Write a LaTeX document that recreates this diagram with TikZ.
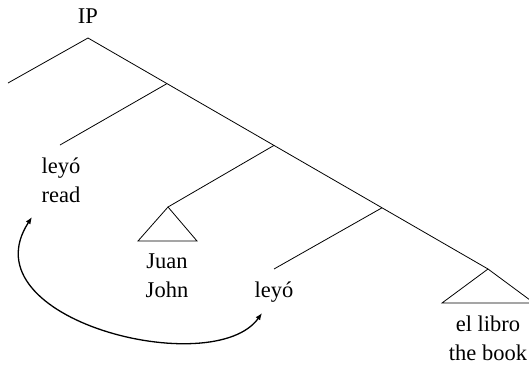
\documentclass[tikz,border=0pt]{standalone}
\usepackage{fontspec}
\setmainfont{Liberation Serif}
\usetikzlibrary{arrows.meta}
\begin{document}
\begin{tikzpicture}[x=1pt,y=-1pt,
  branch/.style={line width=0.8pt},
  word/.style={inner sep=0pt, anchor=base, align=center,
    font=\fontsize{22.5}{28.5}\selectfont},
  move/.style={line width=1.3pt,
    {Latex[length=7pt,width=5.5pt]}-{Latex[length=7pt,width=5.5pt]}}]
\useasboundingbox (0,0) rectangle (529,364);

% branching points of the tree
\coordinate (ip) at (88,38);
\coordinate (n1) at (167,83.6);
\coordinate (n2) at (274,145.4);
\coordinate (n3) at (382,207.8);
\coordinate (t2) at (488,269);
\coordinate (spec) at (8,83);
\coordinate (v1) at (60,145);
\coordinate (t1) at (168,207);
\coordinate (v2) at (274,269);

% labels (base anchor sits on the last line)
\node[word] (lab) at (88,23) {IP};
\node[word] (verb1) at (61,202) {leyó\\read};
\node[word] (subj) at (167,297) {Juan\\John};
\node[word] (verb2) at (274,297) {leyó};
\node[word] (obj) at (488,360) {el libro\\the book};

% branches
\draw[branch] (spec) -- (ip) -- (t2);
\draw[branch] (n1) -- (v1);
\draw[branch] (n2) -- (t1);
\draw[branch] (n3) -- (v2);

% triangles over the phrases
\draw[branch] (t1) -- ++(-30,34) -- ++(59,0) -- cycle;
\draw[branch] (t2) -- ++(-46,34) -- ++(92,0) -- cycle;

% verb movement
\coordinate (from) at (32,217);
\coordinate (to) at (262,313);
\draw[move] (from) .. controls (-35,320) and (214,381) .. (to);
\end{tikzpicture}
\end{document}
